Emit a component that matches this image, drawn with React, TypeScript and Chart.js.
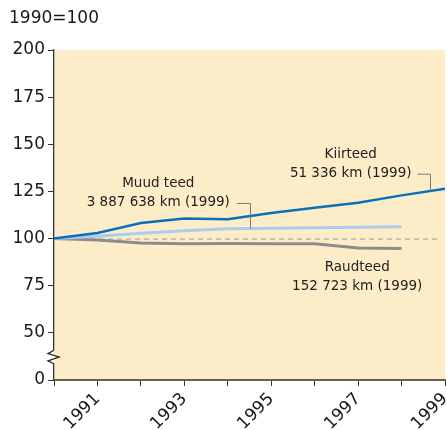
import React, { useEffect, useRef } from 'react';
import { Chart, registerables } from 'chart.js';

Chart.register(...registerables);

const years = ['1990', '1991', '1992', '1993', '1994', '1995', '1996', '1997', '1998', '1999'];
const kiirteed = [100, 103, 108.2, 110.7, 110.2, 113.6, 116.3, 119, 122.9, 126.4];
const muudTeed = [100, 101.2, 102.8, 104.1, 105.2, 105.5, 105.7, 106, 106.3, null];
const raudteed = [100, 99.3, 97.7, 97.2, 97.4, 97.2, 97.2, 95, 94.8, null];
const yTickValues = [25, 50, 75, 100, 125, 150, 175, 200];
const yTickLabels = ['0', '50', '75', '100', '125', '150', '175', '200'];
const baseValue = 100;
const indexTitle = '1990=100';
const labelKiirteed = ['Kiirteed', '51 336 km (1999)'];
const labelMuud = ['Muud teed', '3 887 638 km (1999)'];
const labelRaud = ['Raudteed', '152 723 km (1999)'];

const FONT = '"DejaVu Sans", sans-serif';
const BG = '#fdecc8';

function interp(arr: (number | null)[], x: number): number {
  const i = Math.floor(x);
  const f = x - i;
  const a = arr[i] as number;
  const b = (arr[i + 1] ?? a) as number;
  return a + (b - a) * f;
}

const decor = {
  id: 'decor',
  beforeDraw(chart: any) {
    const { ctx, chartArea } = chart;
    ctx.save();
    ctx.fillStyle = BG;
    ctx.fillRect(chartArea.left, chartArea.top, chartArea.right - chartArea.left, chartArea.bottom - chartArea.top);
    ctx.restore();
  },
  beforeDatasetsDraw(chart: any) {
    const { ctx, chartArea, scales } = chart;
    const y = scales.y.getPixelForValue(baseValue);
    ctx.save();
    ctx.strokeStyle = '#9a9a9a';
    ctx.lineWidth = 1;
    ctx.setLineDash([5, 4]);
    ctx.beginPath();
    ctx.moveTo(chartArea.left, y + 0.5);
    ctx.lineTo(chartArea.right - 6, y + 0.5);
    ctx.stroke();
    ctx.restore();
  },
  afterDraw(chart: any) {
    const { ctx, chartArea, scales } = chart;
    const xs = scales.x;
    const ys = scales.y;
    ctx.save();
    // title
    ctx.fillStyle = '#1a1a1a';
    ctx.font = `17px ${FONT}`;
    ctx.textBaseline = 'middle';
    ctx.textAlign = 'left';
    ctx.fillText(indexTitle, 9, 19);

    // annotations
    ctx.font = `13.5px ${FONT}`;
    ctx.textAlign = 'center';
    ctx.fillStyle = '#222';
    const drawLabel = (lines: string[], xi: number, v1: number, v2: number) => {
      const x = xs.getPixelForValue(xi);
      ctx.fillText(lines[0], x, ys.getPixelForValue(v1));
      ctx.fillText(lines[1], x, ys.getPixelForValue(v2));
      return x + ctx.measureText(lines[1]).width / 2;
    };
    const mEnd = drawLabel(labelMuud, 2.4, 129.4, 119.0);
    const kEnd = drawLabel(labelKiirteed, 6.83, 144.8, 134.6);
    drawLabel(labelRaud, 6.98, 84.6, 74.5);

    ctx.strokeStyle = '#7a7a7a';
    ctx.lineWidth = 1;
    // Muud teed leader
    {
      const lx = xs.getPixelForValue(4.5);
      const ly = ys.getPixelForValue(118.9);
      const ty = ys.getPixelForValue(interp(muudTeed, 4.5));
      ctx.beginPath();
      ctx.moveTo(mEnd + 7, ly + 0.5);
      ctx.lineTo(Math.round(lx) + 0.5, ly + 0.5);
      ctx.lineTo(Math.round(lx) + 0.5, ty);
      ctx.stroke();
    }
    // Kiirteed leader
    {
      const lx = xs.getPixelForValue(8.66);
      const ly = ys.getPixelForValue(134.4);
      const ty = ys.getPixelForValue(interp(kiirteed, 8.66));
      ctx.beginPath();
      ctx.moveTo(kEnd + 6, ly + 0.5);
      ctx.lineTo(Math.round(lx) + 0.5, ly + 0.5);
      ctx.lineTo(Math.round(lx) + 0.5, ty);
      ctx.stroke();
    }

    // axis break
    const ax = chartArea.left;
    const yTop = ys.getPixelForValue(40.8);
    const yBot = ys.getPixelForValue(33.6);
    ctx.fillStyle = '#ffffff';
    ctx.fillRect(ax - 2, yTop, 2, yBot - yTop);
    ctx.fillStyle = BG;
    ctx.fillRect(ax, yTop, 2, yBot - yTop);
    ctx.strokeStyle = '#222';
    ctx.lineWidth = 1.3;
    const h = yBot - yTop;
    ctx.beginPath();
    ctx.moveTo(ax, yTop);
    ctx.lineTo(ax - 6, yTop + h * 0.25);
    ctx.lineTo(ax + 5, yTop + h * 0.5);
    ctx.lineTo(ax - 6, yTop + h * 0.78);
    ctx.lineTo(ax, yBot);
    ctx.stroke();
    ctx.restore();
  },
};

export default function App() {
  const ref = useRef<HTMLCanvasElement | null>(null);
  useEffect(() => {
    if (!ref.current) return;
    const chart = new Chart(ref.current, {
      type: 'line',
      data: {
        labels: years,
        datasets: [
          { label: 'Kiirteed', data: kiirteed, borderColor: '#0b6fbd', borderWidth: 2.5, pointRadius: 0, tension: 0 },
          { label: 'Muud teed', data: muudTeed, borderColor: '#a9cdee', borderWidth: 3, pointRadius: 0, tension: 0 },
          { label: 'Raudteed', data: raudteed, borderColor: '#8c8c8c', borderWidth: 3, pointRadius: 0, tension: 0 },
        ],
      },
      options: {
        animation: false,
        responsive: false,
        maintainAspectRatio: false,
        layout: { padding: { top: 50, right: 2, left: 0, bottom: 0 } },
        plugins: { legend: { display: false }, tooltip: { enabled: false }, title: { display: false } },
        scales: {
          x: {
            offset: false,
            grid: { display: true, drawOnChartArea: false, drawTicks: true, tickLength: 6, color: '#333', lineWidth: 1 },
            border: { display: true, color: '#6b5e4a', width: 2 },
            ticks: {
              autoSkip: false,
              maxRotation: 45,
              minRotation: 45,
              padding: 3,
              color: '#1a1a1a',
              font: { family: FONT, size: 17 },
              callback: (_v: any, i: number) => (i % 2 === 1 ? years[i] : ''),
            },
            afterFit: (s: any) => { s.height = 50; s.paddingRight = 0; s.paddingLeft = 0; },
          },
          y: {
            min: 25,
            max: 200,
            grid: { display: true, drawOnChartArea: false, drawTicks: true, tickLength: 6, color: '#333', lineWidth: 1 },
            border: { display: true, color: '#333', width: 1.3 },
            afterBuildTicks: (s: any) => { s.ticks = yTickValues.map((v) => ({ value: v })); },
            ticks: {
              padding: 3,
              color: '#1a1a1a',
              font: { family: FONT, size: 17 },
              callback: (v: any) => {
                const i = yTickValues.indexOf(Number(v));
                return i >= 0 ? yTickLabels[i] : '';
              },
            },
            afterFit: (s: any) => { s.width = 54; },
          },
        },
      },
      plugins: [decor],
    });
    return () => chart.destroy();
  }, []);
  return (
    <div style={{ position: 'fixed', left: 0, top: 0, width: 447, height: 430, background: '#fff' }}>
      <canvas ref={ref} width={447} height={430} style={{ width: 447, height: 430, display: 'block' }} />
    </div>
  );
}
